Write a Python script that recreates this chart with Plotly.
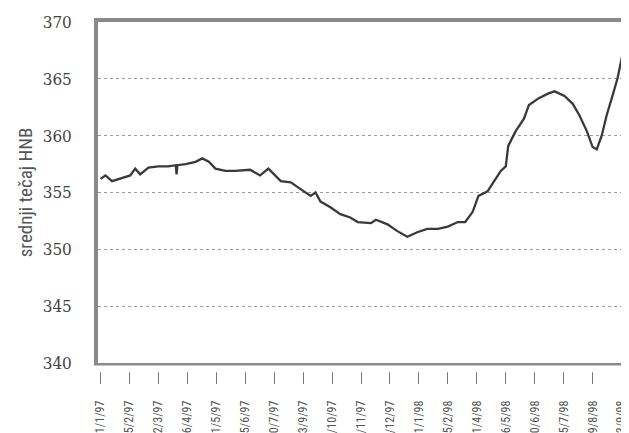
import plotly.graph_objects as go
import pandas as pd

# --- data ---
dates = [
    "1997-01-01", "1997-01-07", "1997-01-15", "1997-01-27", "1997-02-06", "1997-02-12",
    "1997-02-18", "1997-02-28", "1997-03-12", "1997-03-24", "1997-04-02", "1997-04-03",
    "1997-04-04", "1997-04-14", "1997-04-26", "1997-05-04", "1997-05-12", "1997-05-20",
    "1997-06-01", "1997-06-13", "1997-07-01", "1997-07-13", "1997-07-23", "1997-08-07",
    "1997-08-19", "1997-08-31", "1997-09-12", "1997-09-18", "1997-09-24", "1997-10-06",
    "1997-10-18", "1997-10-30", "1997-11-08", "1997-11-24", "1997-11-30", "1997-12-14",
    "1997-12-26", "1998-01-07", "1998-01-19", "1998-01-31", "1998-02-13", "1998-02-25",
    "1998-03-09", "1998-03-18", "1998-03-27", "1998-04-03", "1998-04-14", "1998-04-21",
    "1998-04-30", "1998-05-06", "1998-05-09", "1998-05-18", "1998-05-28", "1998-06-03",
    "1998-06-15", "1998-06-26", "1998-07-04", "1998-07-16", "1998-07-26", "1998-08-03",
    "1998-08-12", "1998-08-19", "1998-08-24", "1998-08-30", "1998-09-05", "1998-09-12",
    "1998-09-18", "1998-09-24", "1998-10-01", "1998-10-03",
]
rate = [
    356.2, 356.5, 356.0, 356.3, 356.5, 357.1,
    356.6, 357.2, 357.3, 357.3, 357.4, 356.6,
    357.4, 357.5, 357.7, 358.0, 357.7, 357.1,
    356.9, 356.9, 357.0, 356.5, 357.1, 356.0,
    355.9, 355.3, 354.7, 355.0, 354.2, 353.7,
    353.1, 352.8, 352.4, 352.3, 352.6, 352.2,
    351.6, 351.1, 351.5, 351.8, 351.8, 352.0,
    352.4, 352.4, 353.3, 354.7, 355.1, 355.9,
    356.9, 357.3, 359.1, 360.4, 361.5, 362.7,
    363.3, 363.7, 363.9, 363.5, 362.8, 361.8,
    360.4, 359.0, 358.8, 360.0, 361.8, 363.5,
    365.0, 367.1, 368.8, 370.0,
]
tick_dates = pd.date_range("1997-01-01", periods=19, freq="35D")
tick_labels = [f"{d.day}/{d.month}/{d.strftime('%y')}" for d in tick_dates]
y_ticks = [340, 345, 350, 355, 360, 365, 370]

frame_color = "#8a8a8a"
narrow = "Liberation Sans Narrow, Arial Narrow, Roboto Condensed, Liberation Sans, sans-serif"

fig = go.Figure()
fig.add_trace(go.Scatter(
    x=dates, y=rate, mode="lines",
    line=dict(color="#3a3a3a", width=2.3),
    showlegend=False, hoverinfo="skip",
))

# white band that detaches the outside tick marks from the axis line
fig.add_shape(type="rect", xref="paper", yref="paper", layer="above",
              x0=-0.01, x1=1.01, y0=-0.0075, y1=-0.027,
              line=dict(width=0), fillcolor="white")

fig.update_layout(
    width=621, height=425,
    margin=dict(l=90, r=0, t=14, b=70),
    paper_bgcolor="white", plot_bgcolor="white",
    template="none",
    xaxis=dict(
        type="date",
        range=["1996-12-29", "1998-10-02"],
        tickmode="array", tickvals=tick_dates, ticktext=tick_labels,
        tickangle=-90, ticks="outside", ticklen=17, tickwidth=1.2, tickcolor="#777777",
        showgrid=False,
        tickfont=dict(family=narrow, size=12, color="#555555"),
        ticklabelstandoff=12,
        showline=True, linecolor=frame_color, linewidth=3.5, mirror=True,
        zeroline=False, automargin=False,
    ),
    yaxis=dict(
        range=[340, 370],
        tickmode="array", tickvals=y_ticks,
        ticks="", showgrid=True,
        gridcolor="#9a9a9a", griddash="dot", gridwidth=1,
        tickfont=dict(family="DejaVu Serif Condensed, DejaVu Serif, serif", size=17, color="#444444"),
        ticklabelstandoff=19,
        showline=True, linecolor=frame_color, linewidth=3.5, mirror=False,
        zeroline=False, automargin=False,
        title=dict(text="srednji tečaj HNB",
                   font=dict(family=narrow, size=19, color="#555555"),
                   standoff=6),
    ),
)

fig.write_html("out.html")
